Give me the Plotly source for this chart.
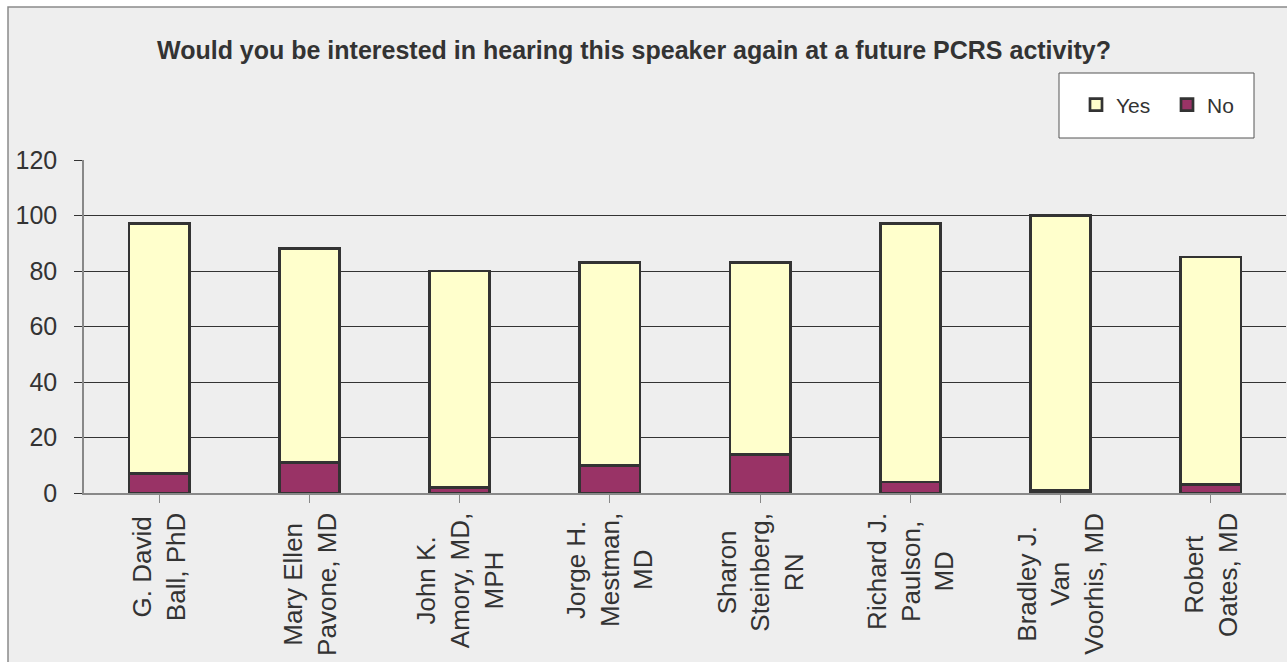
import plotly.graph_objects as go

# Survey results per speaker (percent of respondents)
speakers = [
    "G. David<br>Ball, PhD",
    "Mary Ellen<br>Pavone, MD",
    "John K.<br>Amory, MD,<br>MPH",
    "Jorge H.<br>Mestman,<br>MD",
    "Sharon<br>Steinberg,<br>RN",
    "Richard J.<br>Paulson,<br>MD",
    "Bradley J.<br>Van<br>Voorhis, MD",
    "Robert<br>Oates, MD",
]
yes_values = [90, 77, 78, 73, 69, 93, 99, 82]
no_values = [7, 11, 2, 10, 14, 4, 1, 3]
y_ticks = [0, 20, 40, 60, 80, 100, 120]

W, H = 1287, 662
L, R, T, B = 84, 1, 160, 169
PW, PH = W - L - R, H - T - B


def px_x(p):
    return (p - L) / PW


def px_y(p):
    return (H - B - p) / PH


FONT = "Liberation Sans"
TXT = "#333333"
OUTLINE = "#333333"

cats = list(range(len(speakers)))

fig = go.Figure()
fig.add_trace(go.Bar(
    x=cats, y=no_values, name="No",
    marker=dict(color="#993366", line=dict(color=OUTLINE, width=2.7)),
    width=0.4,
))
fig.add_trace(go.Bar(
    x=cats, y=yes_values, name="Yes",
    marker=dict(color="#FFFFCC", line=dict(color=OUTLINE, width=2.7)),
    width=0.4,
))

# Outer chart frame
shapes = [dict(
    type="rect", xref="paper", yref="paper", layer="below",
    x0=px_x(8), x1=px_x(W + 5), y0=px_y(H + 5), y1=px_y(7),
    fillcolor="#EEEEEE", line=dict(color="#8a8a8a", width=1.5),
)]
# Legend box
shapes.append(dict(
    type="rect", xref="paper", yref="paper", layer="below",
    x0=px_x(1059), x1=px_x(1254), y0=px_y(138), y1=px_y(73),
    fillcolor="#FFFFFF", line=dict(color="#555555", width=1),
))

annotations = [dict(
    text="Would you be interested in hearing this speaker again at a future PCRS activity?",
    xref="paper", yref="paper", x=px_x(634), y=px_y(50),
    xanchor="center", yanchor="middle", showarrow=False,
    font=dict(family=FONT, size=25, color=TXT, weight="bold"),
)]
for i, name in enumerate(speakers):
    annotations.append(dict(
        text=name, xref="x", yref="paper", x=cats[i], y=px_y(511),
        xanchor="center", yanchor="top", textangle=-90, align="center",
        showarrow=False, font=dict(family=FONT, size=26, color=TXT),
    ))

fig.update_layout(
    width=W, height=H,
    margin=dict(l=L, r=R, t=T, b=B, pad=0),
    paper_bgcolor="#FFFFFF",
    plot_bgcolor="rgba(0,0,0,0)",
    barmode="stack",
    bargap=0.6,
    font=dict(family=FONT, color=TXT),
    shapes=shapes,
    annotations=annotations,
    showlegend=True,
    legend=dict(
        orientation="h", traceorder="reversed",
        xref="container", yref="container",
        x=1076 / W, y=1 - 105 / H, xanchor="left", yanchor="middle",
        bgcolor="rgba(0,0,0,0)", borderwidth=0,
        font=dict(family=FONT, size=21, color=TXT),
        itemwidth=30, entrywidth=46,
    ),
    xaxis=dict(
        range=[-0.5, len(speakers) - 0.5],
        tickmode="array", tickvals=cats, showticklabels=False,
        tickson="boundaries", ticks="outside", ticklen=8, tickcolor="#888888",
        showline=True, linecolor="#888888", linewidth=1.5,
        showgrid=False, zeroline=False,
    ),
    yaxis=dict(
        range=[0, 120], tickvals=y_ticks,
        ticks="outside", ticklen=8, tickcolor="#333333",
        showline=True, linecolor="#888888", linewidth=1.5,
        showgrid=True, gridcolor="#333333", gridwidth=1,
        zeroline=False, ticklabelstandoff=12,
        tickfont=dict(family=FONT, size=25, color=TXT),
    ),
)

fig.write_html("out.html")
